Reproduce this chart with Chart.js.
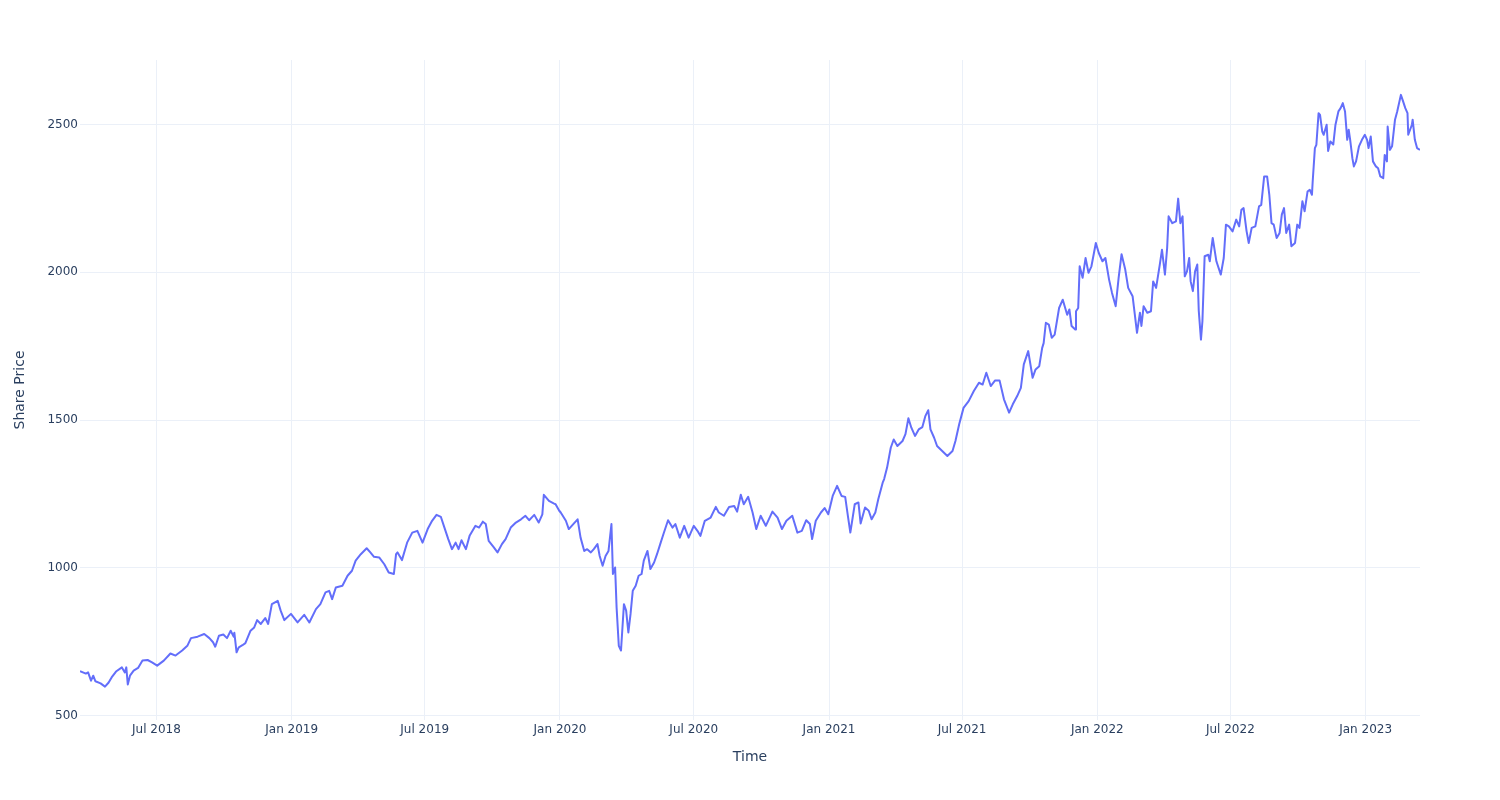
<!DOCTYPE html>
<html>
<head>
<meta charset="utf-8">
<script src="https://cdn.jsdelivr.net/npm/chart.js@4.4.1/dist/chart.umd.min.js"></script>
<style>
html,body{margin:0;padding:0;background:#fff;}
#wrap{width:1500px;height:800px;}
</style>
</head>
<body>
<div id="wrap"><canvas id="c" width="1500" height="800"></canvas></div>
<script>
const dates = [
"2018-03-19","2018-03-27","2018-03-30","2018-04-03","2018-04-06","2018-04-09","2018-04-16","2018-04-22","2018-04-27",
"2018-05-01","2018-05-07","2018-05-15","2018-05-19","2018-05-21","2018-05-23","2018-05-26","2018-05-31",
"2018-06-06","2018-06-12","2018-06-19","2018-06-25","2018-07-02","2018-07-11","2018-07-20","2018-07-27",
"2018-08-05","2018-08-12","2018-08-17","2018-08-26","2018-09-04","2018-09-11","2018-09-16","2018-09-19","2018-09-24","2018-09-30",
"2018-10-05","2018-10-10","2018-10-14","2018-10-15","2018-10-18","2018-10-21","2018-10-26","2018-10-30",
"2018-11-06","2018-11-11","2018-11-15","2018-11-20","2018-11-26","2018-11-30",
"2018-12-05","2018-12-13","2018-12-17","2018-12-22","2018-12-31",
"2019-01-09","2019-01-18","2019-01-25","2019-02-03","2019-02-09","2019-02-16","2019-02-21","2019-02-25",
"2019-03-02","2019-03-11","2019-03-18","2019-03-24","2019-03-29","2019-04-05","2019-04-13","2019-04-18","2019-04-23","2019-04-30",
"2019-05-07","2019-05-13","2019-05-20","2019-05-23","2019-05-25","2019-05-31",
"2019-06-07","2019-06-14","2019-06-21","2019-06-28","2019-07-05","2019-07-11","2019-07-17","2019-07-23","2019-07-27",
"2019-08-02","2019-08-07","2019-08-12","2019-08-16","2019-08-20","2019-08-26","2019-08-31",
"2019-09-08","2019-09-13","2019-09-18","2019-09-22","2019-09-26","2019-10-03","2019-10-08","2019-10-14","2019-10-19","2019-10-26",
"2019-11-02","2019-11-09","2019-11-15","2019-11-20","2019-11-27","2019-12-03","2019-12-08","2019-12-10","2019-12-17","2019-12-24","2019-12-26","2019-12-31",
"2020-01-02","2020-01-09","2020-01-13","2020-01-20","2020-01-25","2020-01-29",
"2020-02-03","2020-02-07","2020-02-12","2020-02-16","2020-02-21","2020-02-24","2020-02-28",
"2020-03-03","2020-03-07","2020-03-11","2020-03-13","2020-03-16","2020-03-18","2020-03-21","2020-03-24","2020-03-28","2020-03-31",
"2020-04-03","2020-04-06","2020-04-09","2020-04-13","2020-04-17","2020-04-21","2020-04-24","2020-04-29",
"2020-05-03","2020-05-08","2020-05-12","2020-05-17","2020-05-21","2020-05-27",
"2020-06-02","2020-06-06","2020-06-12","2020-06-18","2020-06-24","2020-07-01","2020-07-06","2020-07-10","2020-07-16","2020-07-24","2020-07-31",
"2020-08-04","2020-08-11","2020-08-18","2020-08-25","2020-08-29","2020-09-03","2020-09-07","2020-09-13","2020-09-19","2020-09-24","2020-09-30",
"2020-10-07","2020-10-16","2020-10-23","2020-10-29","2020-11-04","2020-11-12","2020-11-19","2020-11-25",
"2020-12-01","2020-12-06","2020-12-09","2020-12-14","2020-12-21","2020-12-26","2020-12-31",
"2021-01-06","2021-01-12","2021-01-18","2021-01-23","2021-01-27","2021-01-30",
"2021-02-05","2021-02-10","2021-02-13","2021-02-19","2021-02-24","2021-02-28",
"2021-03-05","2021-03-09","2021-03-15","2021-03-17","2021-03-21","2021-03-26","2021-03-30",
"2021-04-04","2021-04-11","2021-04-15","2021-04-19","2021-04-23","2021-04-28",
"2021-05-03","2021-05-08","2021-05-12","2021-05-16","2021-05-19","2021-05-24","2021-05-28",
"2021-06-04","2021-06-11","2021-06-18","2021-06-22","2021-06-27","2021-07-03","2021-07-10","2021-07-17","2021-07-24","2021-07-29",
"2021-08-03","2021-08-09","2021-08-15","2021-08-21","2021-08-27","2021-09-03","2021-09-08","2021-09-14","2021-09-19","2021-09-23","2021-09-29",
"2021-10-05","2021-10-09","2021-10-14","2021-10-18","2021-10-20","2021-10-23","2021-10-27","2021-10-31",
"2021-11-04","2021-11-10","2021-11-15","2021-11-21","2021-11-24","2021-11-27",
"2021-12-02","2021-12-03","2021-12-06","2021-12-08","2021-12-12","2021-12-16","2021-12-20","2021-12-24","2021-12-30",
"2022-01-03","2022-01-08","2022-01-12","2022-01-17","2022-01-21","2022-01-26","2022-01-30",
"2022-02-03","2022-02-08","2022-02-12","2022-02-18","2022-02-21","2022-02-24","2022-02-28",
"2022-03-02","2022-03-05","2022-03-10","2022-03-15","2022-03-18","2022-03-22","2022-03-27","2022-03-30",
"2022-04-03","2022-04-06","2022-04-08","2022-04-13","2022-04-18","2022-04-21","2022-04-24","2022-04-27","2022-04-30",
"2022-05-03","2022-05-06","2022-05-08","2022-05-11","2022-05-14","2022-05-17","2022-05-19","2022-05-22","2022-05-24","2022-05-27",
"2022-06-01","2022-06-03","2022-06-07","2022-06-12","2022-06-18","2022-06-22","2022-06-25","2022-06-29",
"2022-07-04","2022-07-09","2022-07-13","2022-07-16","2022-07-19","2022-07-23","2022-07-26","2022-07-30",
"2022-08-04","2022-08-09","2022-08-12","2022-08-16","2022-08-20","2022-08-23","2022-08-26","2022-08-29",
"2022-09-02","2022-09-06","2022-09-09","2022-09-12","2022-09-15","2022-09-19","2022-09-22","2022-09-27","2022-09-30",
"2022-10-03","2022-10-07","2022-10-10","2022-10-14","2022-10-17","2022-10-20","2022-10-21","2022-10-24","2022-10-26","2022-10-29","2022-10-31",
"2022-11-03","2022-11-05","2022-11-09","2022-11-11","2022-11-14","2022-11-18","2022-11-21","2022-11-25","2022-11-28",
"2022-12-01","2022-12-04","2022-12-07","2022-12-09","2022-12-11","2022-12-14","2022-12-16","2022-12-19","2022-12-23","2022-12-27","2022-12-31",
"2023-01-03","2023-01-05","2023-01-08","2023-01-11","2023-01-15","2023-01-18","2023-01-21","2023-01-25","2023-01-27","2023-01-30","2023-01-31",
"2023-02-03","2023-02-06","2023-02-10","2023-02-13","2023-02-18","2023-02-21","2023-02-24","2023-02-27","2023-02-28",
"2023-03-05","2023-03-06","2023-03-09","2023-03-12","2023-03-16"
];
const prices = [
650,642,646,618,635,616,609,598,612,
629,649,663,646,663,605,635,652,
661,686,688,680,669,686,710,703,
720,736,762,767,776,762,748,733,770,774,
762,787,767,780,714,731,738,745,
787,798,823,810,830,810,
877,888,855,823,844,
815,841,815,860,877,917,922,894,
933,939,973,990,1024,1046,1066,1052,1037,1035,
1012,984,979,1046,1052,1026,
1085,1119,1125,1085,1131,1159,1179,1172,1142,
1097,1063,1085,1063,1093,1063,1108,
1142,1136,1156,1148,1091,1069,1052,1080,1097,1136,
1153,1164,1176,1161,1179,1153,1181,1247,1226,1217,1215,1193,
1187,1159,1131,1150,1164,1102,
1057,1063,1052,1063,1080,1040,1007,
1040,1057,1148,979,1001,866,736,720,877,855,
781,844,922,939,973,979,1024,1057,
996,1018,1046,1085,1116,1161,
1136,1148,1102,1142,1102,1142,1125,1108,1159,1170,1206,
1187,1176,1206,1209,1190,1247,1215,1240,1187,1131,1176,
1142,1190,1170,1131,1159,1176,1119,1125,
1161,1148,1097,1159,1187,1202,1181,
1243,1277,1243,1240,1170,1119,
1215,1221,1150,1204,1193,1164,
1187,1232,1288,1300,1339,1406,1434,
1412,1429,1452,1506,1474,1446,
1468,1476,1513,1533,1468,1440,1412,
1395,1378,1395,1429,1485,1541,1564,1598,1626,1620,
1660,1615,1634,1634,1570,1525,1553,1581,1609,1688,1733,
1643,1671,1682,1744,1760,1829,1823,1778,
1789,1879,1907,1856,1874,1818,
1806,1868,1879,2020,1981,2048,1998,2020,2099,
2065,2037,2048,1975,1930,1885,1981,
2061,2009,1947,1919,1857,1795,1863,
1818,1885,1863,1868,1969,1947,2026,2076,
1992,2082,2189,2166,2172,2249,2166,2189,1986,
2003,2048,1969,1936,2003,2026,1870,1772,1834,2054,
2059,2037,2116,2037,1992,2048,2161,2155,
2138,2178,2155,2211,2217,2140,2099,2150,
2155,2223,2228,2324,2324,2262,2166,2161,
2116,2133,2195,2217,2133,2161,2088,2099,2161,
2150,2240,2206,2273,2279,2262,2307,2420,2431,2538,2532,
2476,2465,2499,2410,2442,2432,2499,2544,2555,
2572,2544,2448,2482,2448,2386,2358,2375,2426,2448,2465,
2448,2420,2459,2375,2358,2352,2324,2318,2397,2375,2493,
2414,2426,2516,2544,2600,2578,2555,2538,2465,
2499,2516,2448,2420,2414
];
const xTickDates = ["2018-07-01","2019-01-01","2019-07-01","2020-01-01","2020-07-01","2021-01-01","2021-07-01","2022-01-01","2022-07-01","2023-01-01"];
const xTickLabels = ["Jul 2018","Jan 2019","Jul 2019","Jan 2020","Jul 2020","Jan 2021","Jul 2021","Jan 2022","Jul 2022","Jan 2023"];
const yTickValues = [500,1000,1500,2000,2500];
const yRange = [485, 2718];
const xTitle = "Time";
const yTitle = "Share Price";

const points = dates.map((d,i)=>({x: Date.parse(d), y: prices[i]}));
const FONT = "'DejaVu Sans', Verdana, sans-serif";
const TXT = '#2a3f5f';
const GRID = '#EBF0F8';

new Chart(document.getElementById('c'), {
  type: 'line',
  data: { datasets: [{
    data: points,
    borderColor: '#636efa',
    borderWidth: 2,
    pointRadius: 0,
    pointHoverRadius: 0,
    tension: 0,
    fill: false,
    borderJoinStyle: 'round'
  }]},
  options: {
    responsive: false,
    devicePixelRatio: 1,
    animation: false,
    parsing: false,
    layout: { padding: { left: 0, right: 80, top: 60, bottom: 0 } },
    plugins: { legend: { display: false }, tooltip: { enabled: false } },
    scales: {
      x: {
        type: 'linear',
        min: Date.parse(dates[0]),
        max: Date.parse(dates[dates.length-1]),
        afterBuildTicks: s => { s.ticks = xTickDates.map(d => ({value: Date.parse(d)})); },
        afterFit: s => { s.height = 80; },
        grid: { color: GRID, lineWidth: 1, drawTicks: false },
        border: { display: false },
        ticks: {
          autoSkip: false, maxRotation: 0, padding: 3,
          color: TXT, font: { family: FONT, size: 12 },
          callback: (v, i) => xTickLabels[i]
        },
        title: { display: true, text: xTitle, color: TXT, font: { family: FONT, size: 14 }, padding: { top: 0, bottom: 34 } }
      },
      y: {
        min: yRange[0], max: yRange[1],
        afterBuildTicks: s => { s.ticks = yTickValues.map(v => ({value: v})); },
        afterFit: s => { s.width = 80; },
        grid: { color: GRID, lineWidth: 1, drawTicks: false },
        border: { display: false },
        ticks: {
          padding: 2, color: TXT, font: { family: FONT, size: 12 },
          callback: v => String(v)
        },
        title: { display: true, text: yTitle, color: TXT, font: { family: FONT, size: 14 }, padding: { top: 12, bottom: 0 } }
      }
    }
  }
});
</script>
</body>
</html>
